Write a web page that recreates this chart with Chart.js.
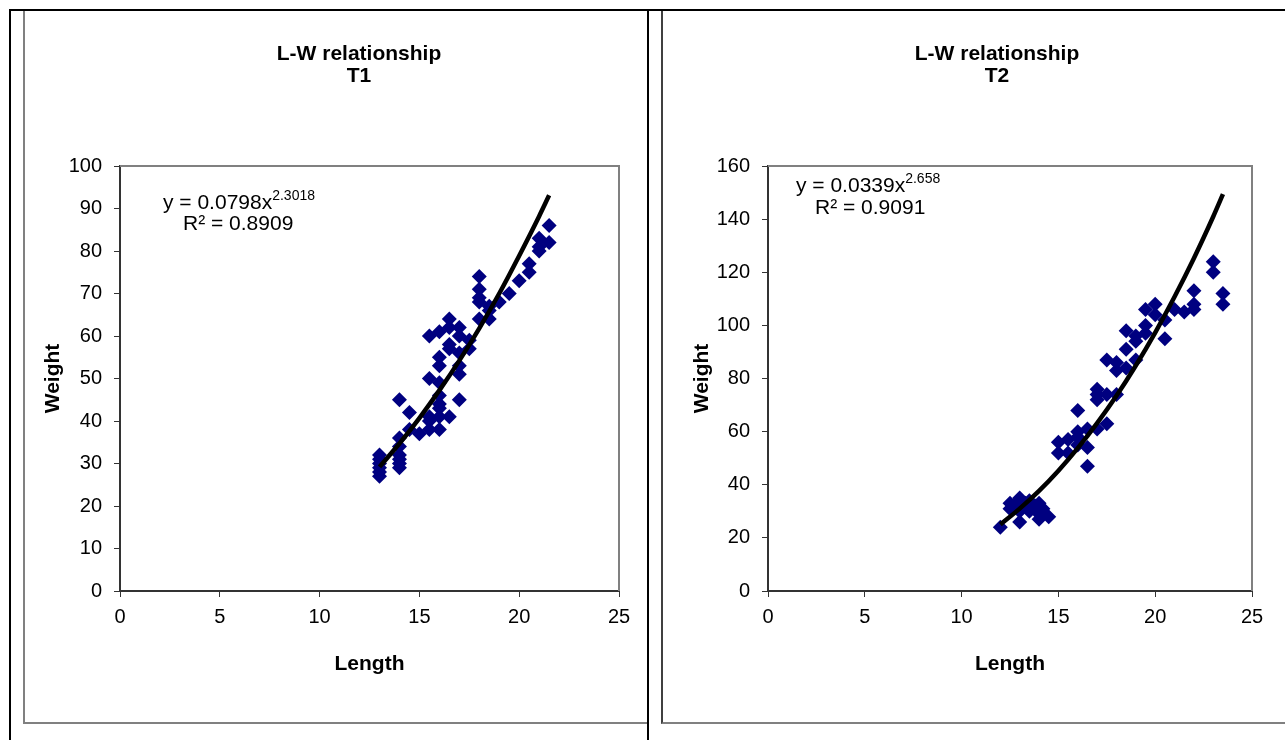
<!DOCTYPE html>
<html>
<head>
<meta charset="utf-8">
<script src="https://cdn.jsdelivr.net/npm/chart.js@4.4.1/dist/chart.umd.min.js"></script>
<style>
  html, body { margin: 0; padding: 0; background: #fff; overflow: hidden; }
  body { width: 1285px; height: 740px; position: relative; }
  .box { position: absolute; top: 9px; height: 713px; border-bottom: 2px solid #808080; }
  #box1 { left: 23px; width: 624px; border-left: 2px solid #808080; }
  #box2 { left: 661px; width: 640px; border-left: 2px solid #404040; }
  .box canvas { display: block; }
  .rule { position: absolute; background: #000; }
</style>
</head>
<body>
<div class="box" id="box1"><canvas id="chartT1" width="622" height="713"></canvas></div>
<div class="box" id="box2"><canvas id="chartT2" width="622" height="713"></canvas></div>
<div class="rule" style="left:9px;top:9px;width:1276px;height:2px"></div>
<div class="rule" style="left:9px;top:9px;width:2px;height:731px"></div>
<div class="rule" style="left:647px;top:9px;width:2px;height:731px"></div>
<script>
// T1 sample: length (x) and weight (y)
var t1Length = [13,13,13,13,13,13, 14,14,14,14,14,14,14, 14.5,14.5, 15,
  15.5,15.5,15.5,15.5,15.5, 16,16,16,16,16,16,16,16,16,
  16.5,16.5,16.5,16.5,16.5, 17,17,17,17,17,17, 17.5,17.5,
  18,18,18,18,18, 18.5,18.5,18.5, 19,19.5,20,20.5,20.5, 21,21,21,21.5,21.5];
var t1Weight = [27,28,29,30,31,32, 29,30,31,32,34,36,45, 42,38, 37,
  38,40,41,50,60, 38,41,43,44,46,49,53,55,61,
  41,57,58,62,64, 45,51,53,56,60,62, 57,59,
  64,68,69,71,74, 64,66,67, 68,70,73,75,77, 80,81,83,82,86];

// T2 sample
var t2Length = [12,12.5,12.5,12.7,13,13,13,13.3,13.5,13.5,13.8,14,14,14,14.2,14.5,
  15,15,15.5,15.5,16,16,16,16,16.5,16.5,16.5,
  17,17,17,17,17.5,17.5,17.5,18,18,18,18.5,18.5,18.5,19,19,19,
  19.5,19.5,19.5,20,20,20.5,20.5,21,21.5,22,22,22,23,23,23.5,23.5];
var t2Weight = [24,33,31,32,35,26,30,33,34,30,32,33,29,27,31,28,
  52,56,57,52,58,60,68,55,61,54,47,
  61,72,74,76,63,74,87,74,83,86,84,91,98,87,94,96,
  97,100,106,104,108,95,102,106,105,106,108,113,120,124,108,112];

// power trend lines as drawn on the charts
var t1TrendLength = [13, 14, 15, 16, 17, 18, 19, 20, 21, 21.5];
var t1TrendWeight = [29.2, 34.7, 40.7, 47.2, 54.2, 61.8, 70.0, 78.9, 88.2, 93.1];
var t2TrendLength = [12, 13, 14, 15, 16, 17, 18, 19, 20, 21, 22, 23, 23.5];
var t2TrendWeight = [25.0, 31.0, 37.7, 45.3, 53.8, 63.2, 73.5, 84.9, 97.3, 110.8, 125.3, 141.0, 149.4];

var FONT = 'Arial, "Liberation Sans", sans-serif';

function points(xs, ys) {
  return xs.map(function (x, i) { return { x: x, y: ys[i] }; });
}

// grey frame on the top and right of the plot area
var plotFrame = {
  id: 'plotFrame',
  beforeDatasetsDraw: function (chart) {
    var a = chart.chartArea, ctx = chart.ctx;
    ctx.save();
    ctx.strokeStyle = '#808080';
    ctx.lineWidth = 2;
    ctx.beginPath();
    ctx.moveTo(a.left, a.top);
    ctx.lineTo(a.right, a.top);
    ctx.lineTo(a.right, a.bottom);
    ctx.stroke();
    ctx.restore();
  }
};

// chart heading and trend equation
var annotate = {
  id: 'annotate',
  afterDraw: function (chart, args, o) {
    var a = chart.chartArea, ctx = chart.ctx;
    ctx.save();
    ctx.fillStyle = '#000';
    ctx.textBaseline = 'middle';
    ctx.textAlign = 'center';
    ctx.font = 'bold 21px ' + FONT;
    o.title.forEach(function (t, i) { ctx.fillText(t, o.titleX, o.titleY + i * 22); });

    ctx.textAlign = 'left';
    ctx.font = '21px ' + FONT;
    var x = a.left + o.eqX, y = a.top + o.eqY;
    ctx.fillText(o.eq, x, y);
    var w = ctx.measureText(o.eq).width;
    ctx.font = '14px ' + FONT;
    ctx.fillText(o.exp, x + w, y - 7);
    ctx.font = '21px ' + FONT;
    ctx.fillText(o.r2, a.left + o.r2X, a.top + o.r2Y);
    ctx.restore();
  }
};

function makeChart(id, cfg) {
  return new Chart(document.getElementById(id), {
    type: 'scatter',
    data: {
      datasets: [
        {
          type: 'line',
          data: points(cfg.trendX, cfg.trendY),
          borderColor: '#000',
          borderWidth: 4.5,
          pointRadius: 0,
          cubicInterpolationMode: 'monotone',
          fill: false,
          order: 0
        },
        {
          data: points(cfg.xs, cfg.ys),
          pointStyle: 'rectRot',
          pointRadius: 7.5,
          pointBackgroundColor: '#000080',
          pointBorderColor: '#000080',
          pointBorderWidth: 0,
          order: 1
        }
      ]
    },
    options: {
      responsive: false,
      animation: false,
      devicePixelRatio: 1,
      layout: { padding: { top: 157, right: cfg.padRight, bottom: 0, left: 0 } },
      plugins: {
        legend: { display: false },
        tooltip: { enabled: false },
        annotate: cfg.note
      },
      scales: {
        x: {
          type: 'linear', min: 0, max: 25,
          ticks: { stepSize: 5, color: '#000', padding: 8, font: { size: 20, family: FONT } },
          grid: { drawOnChartArea: false, tickLength: 6, tickColor: '#333' },
          border: { color: '#333', width: 2 },
          title: { display: true, text: 'Length', color: '#000',
                   font: { size: 21, weight: 'bold', family: FONT }, padding: { bottom: 45 } },
          afterFit: function (s) { s.height = 131; }
        },
        y: {
          type: 'linear', min: 0, max: cfg.yMax,
          ticks: { stepSize: cfg.yStep, color: '#000', padding: 12, font: { size: 20, family: FONT } },
          grid: { drawOnChartArea: false, tickLength: 6, tickColor: '#333' },
          border: { color: '#333', width: 2 },
          title: { display: true, text: 'Weight', color: '#000',
                   font: { size: 21, weight: 'bold', family: FONT }, padding: { top: cfg.yTitlePad } },
          afterFit: function (s) { s.width = cfg.yWidth; }
        }
      }
    },
    plugins: [plotFrame, annotate]
  });
}

makeChart('chartT1', {
  xs: t1Length, ys: t1Weight, trendX: t1TrendLength, trendY: t1TrendWeight,
  yMax: 100, yStep: 10, yWidth: 95, yTitlePad: 16, padRight: 28,
  note: { title: ['L-W relationship', 'T1'], titleX: 334, titleY: 45,
          eq: 'y = 0.0798x', exp: '2.3018', r2: 'R\u00b2 = 0.8909',
          eqX: 43, eqY: 37, r2X: 63, r2Y: 58 }
});

makeChart('chartT2', {
  xs: t2Length, ys: t2Weight, trendX: t2TrendLength, trendY: t2TrendWeight,
  yMax: 160, yStep: 20, yWidth: 105, yTitlePad: 27, padRight: 33,
  note: { title: ['L-W relationship', 'T2'], titleX: 334, titleY: 45,
          eq: 'y = 0.0339x', exp: '2.658', r2: 'R\u00b2 = 0.9091',
          eqX: 28, eqY: 20, r2X: 47, r2Y: 42 }
});
</script>
</body>
</html>
